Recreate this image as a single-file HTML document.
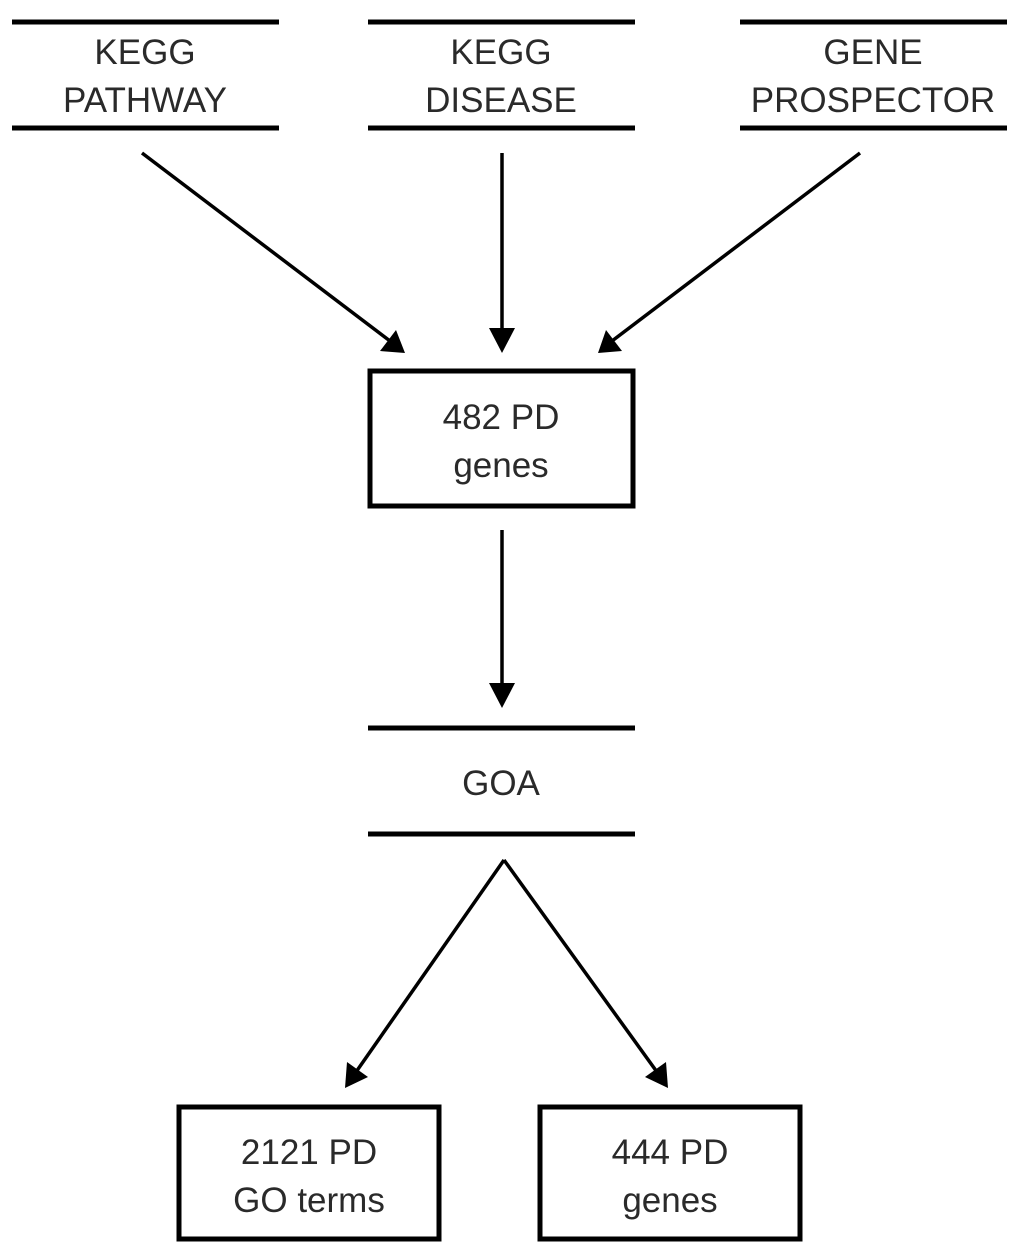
<!DOCTYPE html>
<html><head><meta charset="utf-8"><style>
html,body{margin:0;padding:0;background:#fff;}
svg{display:block}
text{font-family:"Liberation Sans",sans-serif;font-size:35px;fill:#2a2a2a;text-anchor:middle}
</style></head><body>
<svg width="1024" height="1258" viewBox="0 0 1024 1258" xmlns="http://www.w3.org/2000/svg">
<defs><marker id="a" markerWidth="8" markerHeight="8" refX="7" refY="4" orient="auto" markerUnits="userSpaceOnUse" viewBox="0 0 8 8"></marker></defs>
<g stroke="#000" stroke-width="5">
<line x1="12" y1="22" x2="279" y2="22"/><line x1="12" y1="128" x2="279" y2="128"/>
<line x1="368" y1="22" x2="635" y2="22"/><line x1="368" y1="128" x2="635" y2="128"/>
<line x1="740" y1="22" x2="1007" y2="22"/><line x1="740" y1="128" x2="1007" y2="128"/>
<line x1="368" y1="728" x2="635" y2="728"/><line x1="368" y1="834" x2="635" y2="834"/>
</g>
<g fill="none" stroke="#000" stroke-width="5">
<rect x="370" y="371" width="263" height="135"/>
<rect x="179" y="1107" width="260" height="132"/>
<rect x="540" y="1107" width="260" height="132"/>
</g>
<g stroke="#000" stroke-width="3.5">
<line x1="142" y1="153" x2="390" y2="341"/>
<line x1="502" y1="153" x2="502" y2="335"/>
<line x1="860" y1="153" x2="612" y2="341"/>
<line x1="502" y1="530" x2="502" y2="690"/>
<line x1="504" y1="860" x2="356" y2="1072"/>
<line x1="504" y1="860" x2="657" y2="1072"/>
</g>
<g fill="#000">
<polygon points="405,353 380,351 396,330"/>
<polygon points="502,353 489,328 515,328"/>
<polygon points="598,353 606,330 622,351"/>
<polygon points="502,708 489,683 515,683"/>
<polygon points="345,1088 347,1062 368,1077"/>
<polygon points="668,1088 645,1077 666,1062"/>
</g>
<text x="145" y="64">KEGG</text><text x="145" y="112">PATHWAY</text>
<text x="501" y="64">KEGG</text><text x="501" y="112">DISEASE</text>
<text x="873" y="64">GENE</text><text x="873" y="112">PROSPECTOR</text>
<text x="501" y="429">482 PD</text><text x="501" y="477">genes</text>
<text x="501" y="795">GOA</text>
<text x="309" y="1164">2121 PD</text><text x="309" y="1212">GO terms</text>
<text x="670" y="1164">444 PD</text><text x="670" y="1212">genes</text>
</svg>
</body></html>
